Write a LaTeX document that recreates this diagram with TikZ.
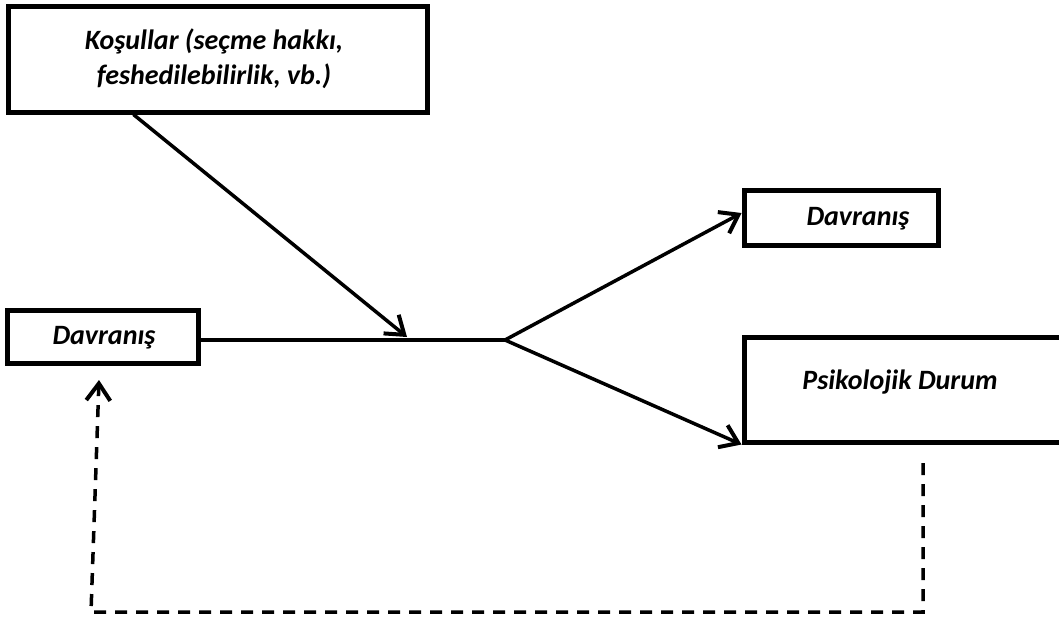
\documentclass[tikz,border=0pt]{standalone}
\usepackage{fontspec}
\setmainfont{Carlito}
\usetikzlibrary{arrows.meta}
\begin{document}
\begin{tikzpicture}[x=1pt,y=-1pt,
  box/.style={draw=black, line width=5pt, fill=white, inner sep=0pt},
  lbl/.style={font=\fontsize{28}{35}\selectfont\bfseries\itshape, align=center, inner sep=0pt},
  tip/.style={-{Straight Barb[length=17pt,width=24pt,line width=4pt]}},
  conn/.style={line width=3.5pt, tip},
  plain/.style={line width=3.5pt},
  fb/.style={line width=3.5pt, dash pattern=on 12pt off 9pt, tip}]
\useasboundingbox (0,0) rectangle (1059,619);
\clip (0,0) rectangle (1059,619);
% boxes
\node[box, minimum width=419pt, minimum height=106pt] (k) at (217.5,59) {};
\node[lbl] (kt) at (214,59) {Koşullar (seçme hakkı,\\feshedilebilirlik, vb.)};
\node[box, minimum width=191pt, minimum height=53pt] (d1) at (102.5,336.5) {};
\node[lbl] (d1t) at (104,338) {Davranış};
\node[box, minimum width=194pt, minimum height=55pt] (d2) at (841,217.5) {};
\node[lbl] (d2t) at (858,219) {Davranış};
\node[box, minimum width=340pt, minimum height=105pt] (p) at (914,389.5) {};
\node[lbl] (pt) at (900,382) {Psikolojik Durum};
% connectors
\coordinate (f) at (505,340);
\coordinate (j) at (407,337);
\draw[conn] (k.south west) ++(128,0) -- (j);
\draw[plain] (d1.east |- f) -- (f);
\draw[conn] (f) -- ([yshift=4.5pt]d2.west);
\draw[conn] (f) -- (p.south west);
% feedback
\coordinate (r1) at (923,463);
\coordinate (r2) at (923,612);
\coordinate (l1) at (91,612);
\coordinate (l2) at (99,380);
\draw[fb] (r1) -- (r2) -- (l1) -- (l2);
\end{tikzpicture}
\end{document}
